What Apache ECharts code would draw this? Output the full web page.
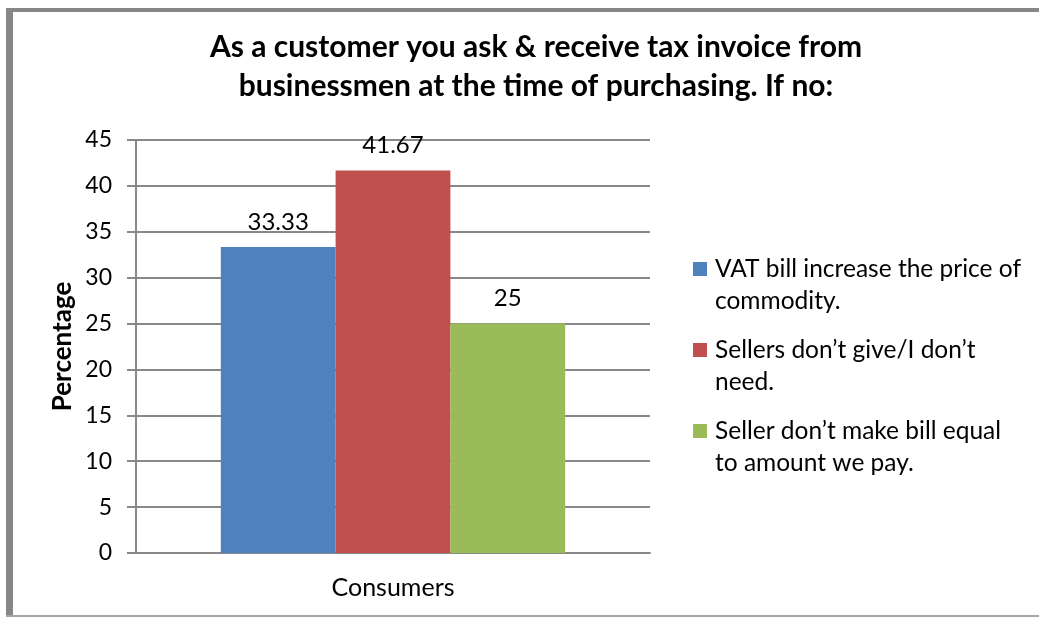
<!DOCTYPE html>
<html>
<head>
<meta charset="utf-8">
<script src="https://cdn.jsdelivr.net/npm/echarts@6/dist/echarts.min.js"></script>
<style>
  html, body { margin: 0; padding: 0; background: #fff; }
  #chart { width: 1039px; height: 617px; }
</style>
</head>
<body>
<div id="chart"></div>
<script>
// Survey answers: why consumers do not take a VAT invoice
const categories = ['Consumers'];
const seriesNames = [
  'VAT bill increase the price of\ncommodity.',
  'Sellers don\u2019t give/I don\u2019t\nneed.',
  'Seller don\u2019t make bill equal\nto amount we pay.'
];
const seriesValues = [[33.33], [41.67], [25]];
const seriesLabels = ['33.33', '41.67', '25'];
const seriesColors = ['#4f81bd', '#c0504d', '#9bbb59'];
const yTicks = { min: 0, max: 45, step: 5 };

const FONT = 'Lato, "Open Sans", sans-serif';
const LEGEND_LH = 32;

const chart = echarts.init(document.getElementById('chart'), null, { renderer: 'canvas' });

const series = seriesNames.map((name, i) => ({
  name: name,
  type: 'bar',
  data: seriesValues[i],
  barGap: '0%',
  barCategoryGap: '33%',
  itemStyle: { color: seriesColors[i] },
  label: {
    show: true,
    position: 'top',
    distance: 13,
    color: '#000',
    fontFamily: FONT,
    fontSize: 24,
    formatter: () => seriesLabels[i]
  }
}));

chart.setOption({
  animation: false,
  backgroundColor: '#fff',
  title: {
    text: 'As a customer you ask & receive tax invoice from\nbusinessmen at the time of purchasing. If no:',
    left: 531,
    textAlign: 'center',
    top: 23,
    textStyle: {
      fontFamily: FONT,
      fontWeight: 'bold',
      fontSize: 30,
      lineHeight: 39,
      color: '#000'
    }
  },
  legend: {
    orient: 'vertical',
    left: 693,
    top: 269 - 1.5 * LEGEND_LH,
    padding: 0,
    itemWidth: 14,
    itemHeight: 14,
    itemGap: 81 - 3 * LEGEND_LH,
    icon: 'rect',
    // a blank leading line keeps the square beside the first line of each entry
    formatter: (name) => ' \n' + name,
    textStyle: {
      fontFamily: FONT,
      fontSize: 24.5,
      lineHeight: LEGEND_LH,
      color: '#000',
      padding: [0, 0, 0, 3]
    }
  },
  grid: {
    left: 136,
    right: 1039 - 650,
    top: 140,
    bottom: 617 - 553,
    containLabel: false
  },
  xAxis: {
    type: 'category',
    data: categories,
    axisLine: { lineStyle: { color: '#888', width: 2 } },
    axisTick: { show: false },
    axisLabel: {
      color: '#000',
      fontFamily: FONT,
      fontSize: 25,
      margin: 22
    }
  },
  yAxis: {
    type: 'value',
    min: yTicks.min,
    max: yTicks.max,
    interval: yTicks.step,
    name: 'Percentage',
    nameLocation: 'middle',
    nameGap: 60,
    nameRotate: 90,
    nameTextStyle: {
      fontFamily: FONT,
      fontWeight: 'bold',
      fontSize: 26,
      color: '#000'
    },
    axisLine: { show: true, lineStyle: { color: '#888', width: 2 } },
    axisTick: { show: true, length: 9, lineStyle: { color: '#888', width: 2 } },
    splitLine: { lineStyle: { color: '#888', width: 2 } },
    axisLabel: {
      color: '#000',
      fontFamily: FONT,
      fontSize: 23,
      margin: 24
    }
  },
  graphic: [
    { type: 'rect', shape: { x: 6, y: 8, width: 1033, height: 4 }, style: { fill: '#878787' }, silent: true },
    { type: 'rect', shape: { x: 6, y: 8, width: 7, height: 609 }, style: { fill: '#878787' }, silent: true },
    { type: 'rect', shape: { x: 6, y: 615, width: 1033, height: 2 }, style: { fill: '#a6a6a6' }, silent: true }
  ],
  series: series
});
</script>
</body>
</html>
